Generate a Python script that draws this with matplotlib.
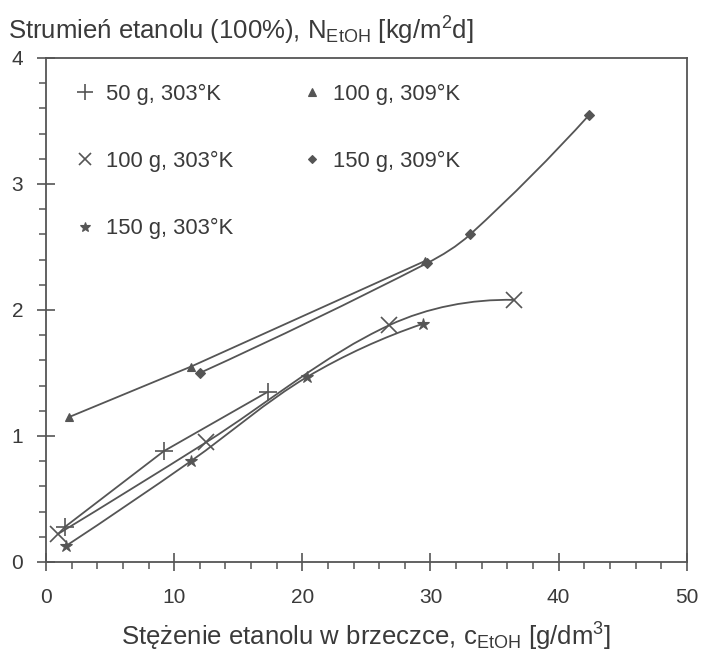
import numpy as np
import matplotlib
matplotlib.use("Agg")
import matplotlib.pyplot as plt
from matplotlib.lines import Line2D
from matplotlib.path import Path
from matplotlib.patches import PathPatch
from matplotlib.ticker import MultipleLocator

plt.rcParams['font.family'] = ['Liberation Sans', 'DejaVu Sans']
plt.rcParams['mathtext.fontset'] = 'custom'
plt.rcParams['mathtext.rm'] = 'Liberation Sans'
plt.rcParams['mathtext.it'] = 'Liberation Sans'

# ── data ────────────────────────────────────────────────────────────────────
plus_x = [1.5, 9.2, 17.3]           # 50 g, 303 K
plus_y = [0.28, 0.88, 1.35]
cross_x = [0.9, 12.5, 26.8, 36.5]   # 100 g, 303 K
cross_y = [0.22, 0.95, 1.88, 2.08]
star_x = [1.6, 11.3, 20.4, 29.4]    # 150 g, 303 K
star_y = [0.13, 0.80, 1.47, 1.89]
tri_x = [1.8, 11.3, 29.6]           # 100 g, 309 K
tri_y = [1.15, 1.55, 2.39]
dia_x = [12.0, 29.7, 33.1, 42.4]    # 150 g, 309 K
dia_y = [1.50, 2.37, 2.60, 3.55]

labels = ['50 g, 303°K', '100 g, 303°K', '150 g, 303°K',
          '100 g, 309°K', '150 g, 309°K']

LINE = '#555555'
TEXT = '#3a3a3a'
FIGSIZE = (7.03, 6.53)
XLIM, YLIM = (0, 50), (0, 4)


def _unit(v):
    return v / np.hypot(*v)


def smooth_path(x, y, k):
    """Bezier path through the measured points (tangents from neighbours).

    k is the y/x display-scale ratio so tangents follow what is seen.
    """
    p = np.column_stack([np.asarray(x, float), np.asarray(y, float) * k])
    n = len(p)
    tang = [None] * n
    for i in range(1, n - 1):
        tang[i] = _unit(p[i + 1] - p[i - 1])
    # free ends: mirror the neighbouring tangent about the end chord
    tang[0] = _unit(2 * _unit(p[1] - p[0]) - tang[1])
    tang[-1] = _unit(2 * _unit(p[-1] - p[-2]) - tang[-2])
    verts = [p[0]]
    codes = [Path.MOVETO]
    for i in range(n - 1):
        L = np.hypot(*(p[i + 1] - p[i])) / 3
        verts += [p[i] + tang[i] * L, p[i + 1] - tang[i + 1] * L, p[i + 1]]
        codes += [Path.CURVE4] * 3
    verts = np.array(verts)
    verts[:, 1] /= k
    return Path(verts, codes)


fig = plt.figure(figsize=FIGSIZE, dpi=100)
ax = fig.add_axes([0.0654, 0.1394, 0.9116, 0.7718])
pos = ax.get_position()
k = (pos.height * FIGSIZE[1] / (YLIM[1] - YLIM[0])) / \
    (pos.width * FIGSIZE[0] / (XLIM[1] - XLIM[0]))

# (x, y, marker, size, edge width, smooth curve?)
series = [
    (plus_x, plus_y, '+', 13, 1.2, False),
    (cross_x, cross_y, 'x', 11, 1.2, True),
    (star_x, star_y, '*', 9, 0.8, True),
    (tri_x, tri_y, '^', 6, 0.8, False),
    (dia_x, dia_y, 'D', 5, 0.8, True),
]

handles = []
for (x, y, m, ms, mew, smooth), lab in zip(series, labels):
    if smooth:
        ax.add_patch(PathPatch(smooth_path(x, y, k), fill=False,
                               edgecolor=LINE, lw=1.3))
        ax.plot(x, y, ls='none', marker=m, ms=ms, mew=mew,
                mfc=LINE, mec=LINE)
    else:
        ax.plot(x, y, color=LINE, lw=1.3, marker=m, ms=ms, mew=mew,
                mfc=LINE, mec=LINE)
    handles.append(Line2D([], [], ls='none', marker=m, color=LINE,
                          ms=ms * 0.85, mew=mew, mfc=LINE, mec=LINE))

ax.legend(handles, labels, ncol=2, frameon=False, loc='upper left',
          bbox_to_anchor=(0.016, 0.988), fontsize=15.8, labelspacing=2.1,
          handlelength=0.8, handletextpad=0.55, columnspacing=3.2,
          labelcolor=TEXT)

ax.set_xlim(*XLIM)
ax.set_ylim(*YLIM)
ax.xaxis.set_major_locator(MultipleLocator(10))
ax.xaxis.set_minor_locator(MultipleLocator(2))
ax.yaxis.set_major_locator(MultipleLocator(1))
ax.yaxis.set_minor_locator(MultipleLocator(0.2))

for s in ax.spines.values():
    s.set_color(LINE)
    s.set_linewidth(1.3)

ax.tick_params(which='major', direction='inout', length=13, width=1.2,
               color=LINE, labelsize=15, labelcolor=TEXT)
ax.tick_params(axis='x', which='major', pad=12)
ax.tick_params(axis='y', which='major', pad=10)
ax.tick_params(which='minor', direction='out', length=5, width=1.1,
               color=LINE)

ax.set_xlabel(r'Stężenie etanolu w brzeczce, c$_{\rm EtOH}$ [g/dm$^3$]',
              fontsize=18.5, color=TEXT, labelpad=10)
fig.text(0.011, 0.953,
         r'Strumień etanolu (100%), N$_{\rm EtOH}$ [kg/m$^2$d]',
         fontsize=18.5, color=TEXT, ha='left', va='center')

fig.savefig('out.png', dpi=100, facecolor='white')
